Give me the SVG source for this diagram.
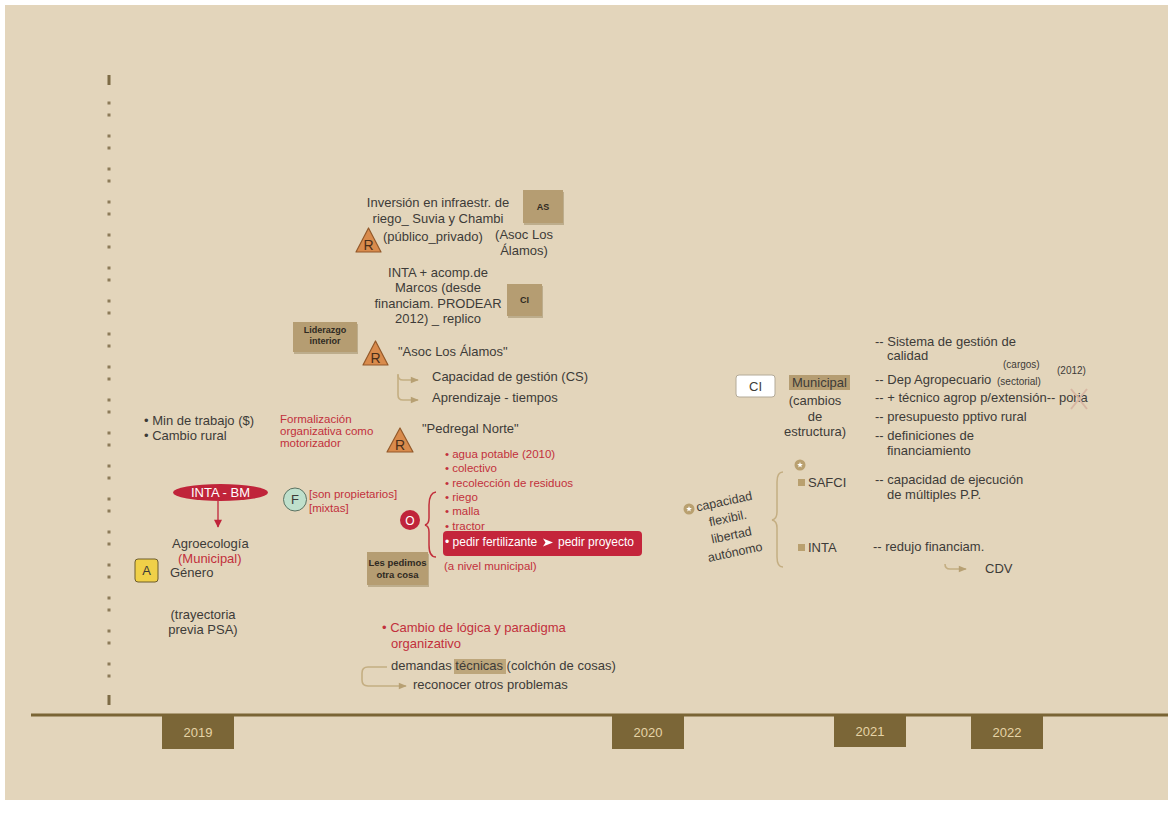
<svg xmlns="http://www.w3.org/2000/svg" xmlns:xlink="http://www.w3.org/1999/xlink" width="1174" height="827" viewBox="0 0 1174 827">
<style>
text{font-family:"Liberation Sans",Arial,sans-serif;font-size:13px;fill:#3d3b38}
.r{fill:#c2303c;font-size:11.5px}
.r13{fill:#c2303c}
.w{fill:#ffffff}
.c{text-anchor:middle}
.sb{font-size:9px;font-weight:bold;fill:#2f2a22}
.sm{font-size:10px}
.yr{fill:#e6d4a6;text-anchor:middle}
.tan{fill:#b59d72}
.shadow{fill:#8f7c55;opacity:.45}
.tri{fill:#d98b4c;stroke:#93592a;stroke-width:1.2;stroke-linejoin:round}
.conn{fill:none;stroke:#c4ae82;stroke-width:1.6}
.dot{fill:#b9a06f}
.rl{font-size:14px;fill:#4a2e18}
</style>
<defs>
<marker id="at" viewBox="0 0 10 10" refX="9" refY="5" markerWidth="11" markerHeight="8" markerUnits="userSpaceOnUse" orient="auto"><path d="M0,1 L10,5 L0,9 z" fill="#b7a073"/></marker>
<marker id="ar" viewBox="0 0 10 10" refX="9" refY="5" markerWidth="9" markerHeight="8" markerUnits="userSpaceOnUse" orient="auto"><path d="M0,0 L10,5 L0,10 z" fill="#c0243a"/></marker>
<g id="star"><circle r="5.5" class="dot"/><polygon fill="#fff" points="0,-3 0.76,-1.05 2.85,-0.93 1.24,0.4 1.76,2.43 0,1.3 -1.76,2.43 -1.24,0.4 -2.85,-0.93 -0.76,-1.05"/></g>
</defs>

<rect width="1174" height="827" fill="#ffffff"/>
<rect x="5" y="5" width="1163" height="795" fill="#e3d5bb"/>

<!-- vertical dotted guide -->
<g id="guide">
<rect x="107.5" y="75" width="3" height="10" fill="#7d6b45"/>
<line x1="109" y1="101.5" x2="109" y2="678" stroke="#8c7b58" stroke-width="3" stroke-dasharray="3 9 3 18"/>
<rect x="107.5" y="695" width="3" height="10" fill="#7d6b45"/>
</g>

<!-- timeline -->
<g id="timeline">
<line x1="31" y1="715" x2="1168" y2="715" stroke="#7a6535" stroke-width="3"/>
<rect x="162" y="716" width="72" height="33" fill="#7b6637"/>
<text class="yr" x="198" y="737">2019</text>
<rect x="612" y="716" width="72" height="33" fill="#7b6637"/>
<text class="yr" x="648" y="737">2020</text>
<rect x="834" y="716" width="72" height="31" fill="#7b6637"/>
<text class="yr" x="870" y="736">2021</text>
<rect x="971" y="716" width="72" height="33" fill="#7b6637"/>
<text class="yr" x="1007" y="737">2022</text>
</g>

<!-- connectors -->
<g id="connectors">
<path class="conn" d="M398,374 V395 Q398,400 403,400 H418" marker-end="url(#at)"/>
<path class="conn" d="M398,375 Q398,380 403,380 H418" marker-end="url(#at)"/>
<line x1="218" y1="501" x2="218" y2="527" stroke="#c0243a" stroke-width="1.3" marker-end="url(#ar)"/>
<path d="M436,492 Q429,493 429,505 V518 Q429,524 425,525 Q429,526 429,532 V545 Q429,557 436,557" fill="none" stroke="#c2303c" stroke-width="1.5"/>
<path class="conn" d="M387,667 H368 Q362,667 362,673 V680 Q362,686 368,686 H406" marker-end="url(#at)"/>
<path d="M783,472 Q777,472 777,482 V512 Q777,519 772,520 Q777,521 777,528 V557 Q777,567 783,567" fill="none" stroke="#c4ae82" stroke-width="1.5"/>
<path class="conn" d="M945,564 Q945,569 950,569 H966" marker-end="url(#at)"/>
</g>

<!-- top: Inversión -->
<g id="inversion">
<text class="c" x="438" y="207">Inversión en infraestr. de</text>
<text class="c" x="438" y="222.5">riego_ Suvia y Chambi</text>
<text x="383" y="241">(público_privado)</text>
<text class="c" x="524" y="239">(Asoc Los</text>
<text class="c" x="524" y="255">Álamos)</text>
</g>
<g id="as-box">
<rect class="shadow" x="524" y="192" width="40" height="33"/>
<rect class="tan" x="523" y="190" width="40" height="33"/>
<text class="sb c" x="543" y="210">AS</text>
</g>
<g id="r1">
<polygon class="tri" points="368.5,228 356,252 381,252"/>
<text class="rl c" x="368.5" y="250">R</text>
</g>
<g id="inta-marcos">
<text class="c" x="438" y="277">INTA + acomp.de</text>
<text class="c" x="438" y="292">Marcos (desde</text>
<text class="c" x="438" y="307.5">financiam. PRODEAR</text>
<text class="c" x="438" y="322.5">2012) _ replico</text>
</g>
<g id="ci-box">
<rect class="shadow" x="508" y="286" width="35" height="32"/>
<rect class="tan" x="507" y="284" width="35" height="32"/>
<text class="sb c" x="524.5" y="303">CI</text>
</g>
<g id="liderazgo">
<rect class="shadow" x="294" y="324" width="64" height="30"/>
<rect class="tan" x="293" y="322" width="64" height="30"/>
<text class="sb c" x="325" y="332.5">Liderazgo</text>
<text class="sb c" x="325" y="343.5">interior</text>
</g>
<g id="r2">
<polygon class="tri" points="375.5,341 363,365 388,365"/>
<text class="rl c" x="375.5" y="363">R</text>
</g>
<g id="asoc-alamos">
<text x="398" y="356">"Asoc Los Álamos"</text>
<text x="432" y="381">Capacidad de gestión (CS)</text>
<text x="432" y="402">Aprendizaje - tiempos</text>
</g>

<!-- left column -->
<g id="min-trabajo">
<text x="144" y="425">• Min de trabajo ($)</text>
<text x="144" y="440">• Cambio rural</text>
</g>
<g id="formalizacion">
<text class="r" x="280" y="423">Formalización</text>
<text class="r" x="280" y="435">organizativa como</text>
<text class="r" x="280" y="447">motorizador</text>
</g>
<g id="r3">
<polygon class="tri" points="400,428 387,452 413,452"/>
<text class="rl c" x="400" y="450">R</text>
</g>
<g id="pedregal">
<text x="422" y="433">"Pedregal Norte"</text>
</g>
<g id="inta-bm">
<ellipse cx="220.5" cy="492.5" rx="47.5" ry="8.5" fill="#c0243a"/>
<text class="w c" x="220.5" y="497">INTA - BM</text>
</g>
<g id="agroecologia">
<text x="172" y="548">Agroecología</text>
<text class="r13" x="178" y="563">(Municipal)</text>
<text x="170" y="577">Género</text>
<text class="c" x="203" y="619">(trayectoria</text>
<text class="c" x="203" y="634">previa PSA)</text>
</g>
<g id="a-box">
<rect x="135" y="559" width="23" height="23" rx="3" fill="#f0d048" stroke="#6d5c2c" stroke-width="1"/>
<text class="c" x="146.5" y="575">A</text>
</g>
<g id="f-node">
<circle cx="295" cy="499.5" r="11.5" fill="#bfe0cc" stroke="#5a7262" stroke-width="1"/>
<text class="c" x="295" y="504">F</text>
<text class="r" x="309" y="498">[son propietarios]</text>
<text class="r" x="309" y="512">[mixtas]</text>
</g>
<g id="o-node">
<circle cx="410" cy="520" r="10" fill="#c0243a"/>
<text class="w c" x="410" y="524.5" style="font-size:12px">O</text>
</g>
<g id="lista-pedregal">
<text class="r" x="445" y="458">• agua potable (2010)</text>
<text class="r" x="445" y="472">• colectivo</text>
<text class="r" x="445" y="487">• recolección de residuos</text>
<text class="r" x="445" y="501">• riego</text>
<text class="r" x="445" y="515">• malla</text>
<text class="r" x="445" y="530">• tractor</text>
<rect x="443" y="531" width="199" height="25" rx="4" fill="#c4253b"/>
<text class="w" x="445" y="546" style="font-size:12px">• pedir fertilizante</text>
<polygon points="543,538.5 553,542.5 543,546.5 545.5,542.5" fill="#ffffff"/>
<text class="w" x="558" y="546" style="font-size:12px">pedir proyecto</text>
<text class="r" x="444" y="570">(a nivel municipal)</text>
</g>
<g id="les-pedimos">
<rect class="shadow" x="368" y="554" width="61" height="33"/>
<rect class="tan" x="367" y="552" width="61" height="33"/>
<text class="sb c" x="397.5" y="565.5" style="font-size:9.5px">Les pedimos</text>
<text class="sb c" x="397.5" y="577.5" style="font-size:9.5px">otra cosa</text>
</g>
<g id="cambio-logica">
<text class="r13" x="382" y="632">• Cambio de lógica y paradigma</text>
<text class="r13" x="391" y="648">organizativo</text>
<rect x="454" y="659" width="52" height="15" fill="#bda67b"/>
<text x="391" y="670">demandas técnicas (colchón de cosas)</text>
<text x="413" y="689">reconocer otros problemas</text>
</g>

<!-- right side -->
<g id="ci-white">
<rect x="736" y="375" width="39" height="22" rx="3" fill="#ffffff" stroke="#b3aa98" stroke-width="1"/>
<text class="c" x="755.5" y="391">CI</text>
</g>
<g id="municipal">
<rect x="789" y="375" width="61" height="15" fill="#b59d72"/>
<text class="c" x="819.5" y="386.5">Municipal</text>
<text class="c" x="815" y="405">(cambios</text>
<text class="c" x="815" y="421">de</text>
<text class="c" x="815" y="436">estructura)</text>
</g>
<g id="lista-municipal">
<text x="875" y="346">-- Sistema de gestión de</text>
<text x="887" y="360">calidad</text>
<text class="sm" x="1003" y="368">(cargos)</text>
<text class="sm" x="1057" y="374">(2012)</text>
<text x="875" y="384">-- Dep Agropecuario</text>
<text class="sm" x="997" y="385">(sectorial)</text>
<text x="875" y="402">-- + técnico agrop p/extensión-- poria</text>
<line x1="1071" y1="389" x2="1087" y2="409" stroke="#d8b6a2" stroke-width="2"/>
<line x1="1087" y1="389" x2="1071" y2="409" stroke="#d8b6a2" stroke-width="2"/>
<text x="875" y="421">-- presupuesto pptivo rural</text>
<text x="875" y="440">-- definiciones de</text>
<text x="887" y="455">financiamiento</text>
</g>
<g id="capacidad-flex">
<use xlink:href="#star" x="689" y="509"/>
<g transform="translate(729.5,526.5) rotate(-12)">
<text class="c" x="0" y="-21.5" style="font-size:12.5px">capacidad</text>
<text class="c" x="0" y="-4.2" style="font-size:12.5px">flexibil.</text>
<text class="c" x="0" y="13.1" style="font-size:12.5px">libertad</text>
<text class="c" x="0" y="30.4" style="font-size:12.5px">autónomo</text>
</g>
</g>
<g id="safci">
<use xlink:href="#star" x="800" y="465"/>
<rect x="798" y="479" width="7" height="7" fill="#b9a06f"/>
<text x="808" y="487">SAFCI</text>
<text x="875" y="484">-- capacidad de ejecución</text>
<text x="887" y="499">de múltiples P.P.</text>
</g>
<g id="inta-right">
<rect x="798" y="544" width="7" height="7" fill="#b9a06f"/>
<text x="808" y="552">INTA</text>
<text x="873" y="551">-- redujo financiam.</text>
<text x="985" y="573">CDV</text>
</g>
</svg>
